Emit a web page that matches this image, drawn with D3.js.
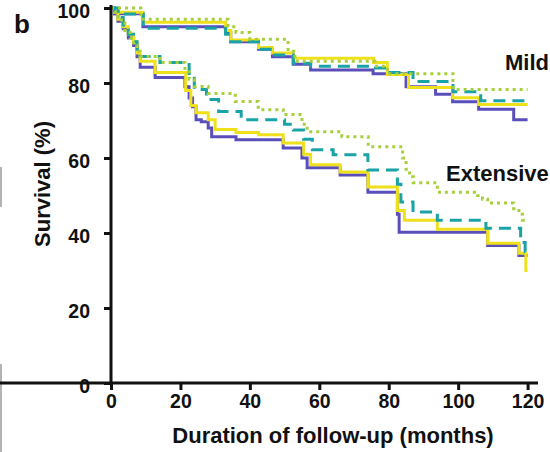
<!DOCTYPE html>
<html>
<head>
<meta charset="utf-8">
<script src="https://cdn.jsdelivr.net/npm/d3@7"></script>
<style>
  html, body { margin: 0; padding: 0; background: #fff; }
  svg { display: block; font-family: "Liberation Sans", Arial, Helvetica, sans-serif; }
</style>
</head>
<body>
<svg id="chart" width="550" height="452"></svg>
<script>
// ---- Data (month, survival %) ----
const xTicks = [0, 20, 40, 60, 80, 100, 120];
const yTicks = [0, 20, 40, 60, 80, 100];

const mildPurple = [[0,100],[1,98.5],[9.2,95],[33,93.5],[34.5,91],[42.5,89],[46.5,87],[52.5,85],[57.5,83.5],[75.5,82.5],[85,79],[93.5,77],[98.4,75],[105.9,73],[116,70.2],[120,70.2]];
const mildYellow = [[0,100],[1,98.9],[9.2,96.2],[33,94],[34.5,91.5],[42.5,89.5],[46.5,88],[52.5,86.6],[75.6,85.5],[79.6,82.3],[85.7,78.8],[98.4,76.1],[105.9,74.3],[120,74.3]];
const mildTeal = [[0,100],[2,98.4],[9.3,94.6],[33,93],[34.5,91],[42.5,89],[46.5,87.5],[52.5,85.3],[57.5,84.5],[75.6,84],[79.6,82.8],[87,80.4],[98.5,77.7],[106.5,75.3],[120,75.3]];
const mildGreen = [[0,100],[8.6,97],[33.7,95],[36,93.5],[40,91.7],[51,88.5],[53,85.8],[76,84.5],[79.6,82.5],[98.5,78.3],[120,78.3]];

const extPurple = [[0,100],[1,98.5],[2,96.5],[3.5,94.5],[5,92],[6.5,90],[7.5,87],[8.4,84.2],[12.7,81.5],[21.3,79],[22.5,76],[23.5,73.7],[24.5,70.2],[26,69.7],[28,68],[29,65.7],[36,64.9],[49.6,62.7],[55,60],[56.5,57.4],[66,55.5],[74,50.9],[82.5,45],[83,40.2],[108.5,36.7],[117.5,34],[120,34]];
const extYellow = [[0,100],[1,99],[2,97],[3.5,95],[5,93],[6.5,91],[7.5,88],[8.4,85.8],[12.7,82.8],[21.5,78],[23,74],[24.5,72.1],[28,70.2],[30,67.6],[36,66.8],[42.5,66.2],[49.6,64],[55.5,61],[57.5,58.2],[66,56.3],[74,52.3],[82.5,46],[84.5,43.4],[94,41],[108.5,37.3],[117.5,34.6],[119.5,30],[120,30]];
const extTeal = [[0,100],[1,99],[2,97.5],[3.5,95.5],[5,93],[6.5,91],[7.5,89],[8.4,87.1],[14.1,85.5],[22.5,82],[24,78.3],[27.5,75.6],[31,72.4],[37.5,70.2],[50,69],[52.5,67.5],[55.5,65],[58,62.2],[64,60.9],[74,56.8],[82.5,53],[83.5,48.3],[87,45.6],[94,43.4],[108,41.3],[118,37.5],[119.3,35],[120,35]];
const extGreen = [[0,100],[1,99],[2,97.5],[3,96],[4,94],[5.5,92],[6.5,90],[7.5,88.5],[8.4,87.1],[14.1,85.5],[21.3,83],[22.5,81],[24,79.1],[28,77.2],[35.8,75.1],[42.4,72.9],[49.6,71.6],[55,69],[56.5,67],[66.5,65.7],[74.1,63],[84,60],[85,57],[86,55],[87.1,53.4],[94,50.9],[105.6,50],[107,49],[108.5,48],[116,46.5],[117.5,45],[118.5,43.4],[120,43.4]];

const groupLabels = [{text: "Mild", month: 113.5, value: 83.5}, {text: "Extensive", month: 96.5, value: 53.8}];

// ---- Layout ----
const svg = d3.select("#chart");
const x = d3.scaleLinear().domain([0, 123]).range([111, 538]);
const y = d3.scaleLinear().domain([0, 100]).range([383, 8]);

// cropping artifacts at the left edge
svg.append("line").attr("x1", 1).attr("x2", 1).attr("y1", 167).attr("y2", 207).attr("stroke", "#9a9a9a").attr("stroke-width", 1.5);
svg.append("line").attr("x1", 1).attr("x2", 1).attr("y1", 364).attr("y2", 452).attr("stroke", "#9a9a9a").attr("stroke-width", 1.5);

// ---- Curves ----
const line = d3.line().x(d => x(d[0])).y(d => y(d[1])).curve(d3.curveStepAfter);
const styles = [
  {data: mildPurple, color: "#5a4fba", dash: null},
  {data: extPurple, color: "#5a4fba", dash: null},
  {data: mildYellow, color: "#efe01c", dash: null},
  {data: extYellow, color: "#efe01c", dash: null},
  {data: mildTeal, color: "#1aa3a6", dash: "12,7"},
  {data: extTeal, color: "#1aa3a6", dash: "12,7"},
  {data: mildGreen, color: "#a6d03a", dash: "3,4"},
  {data: extGreen, color: "#a6d03a", dash: "3,4"}
];
styles.forEach(s => {
  svg.append("path")
    .attr("d", line(s.data))
    .attr("fill", "none")
    .attr("stroke", s.color)
    .attr("stroke-width", 3)
    .attr("stroke-dasharray", s.dash);
});

// ---- Axes ----
const xAxis = d3.axisBottom(x).tickValues(xTicks).tickSize(7).tickSizeOuter(0).tickPadding(4);
const yAxis = d3.axisLeft(y).tickValues(yTicks).tickSize(7).tickSizeOuter(0).tickPadding(14);

const gx = svg.append("g").attr("transform", "translate(0,383)").call(xAxis);
const gy = svg.append("g").attr("transform", "translate(111,0)").call(yAxis);
[gx, gy].forEach(g => {
  g.select(".domain").attr("stroke", "#111").attr("stroke-width", 3);
  g.selectAll(".tick line").attr("stroke", "#111").attr("stroke-width", 3);
  g.selectAll(".tick text").attr("fill", "#111").style("font-size", "19.5px").style("font-weight", "bold");
});
gy.selectAll(".tick text").attr("dy", "0.5em");
gy.select(".domain").attr("d", "M0,383V5");
gx.select(".domain").attr("d", "M-1.5,0H538");

// ---- Texts ----
svg.append("text").attr("x", 14).attr("y", 33).text("b")
  .style("font-size", "26px").style("font-weight", "bold").attr("fill", "#111");

svg.append("text")
  .attr("transform", "translate(50,184) rotate(-90)")
  .attr("text-anchor", "middle")
  .style("font-size", "22px").style("font-weight", "bold").attr("fill", "#111")
  .text("Survival (%)");

svg.append("text")
  .attr("x", 333).attr("y", 443)
  .attr("text-anchor", "middle")
  .style("font-size", "22px").style("font-weight", "bold").attr("fill", "#111")
  .text("Duration of follow-up (months)");

groupLabels.forEach(l => {
  svg.append("text")
    .attr("x", x(l.month)).attr("y", y(l.value))
    .style("font-size", "22px").style("font-weight", "bold").attr("fill", "#111")
    .text(l.text);
});
</script>
</body>
</html>
